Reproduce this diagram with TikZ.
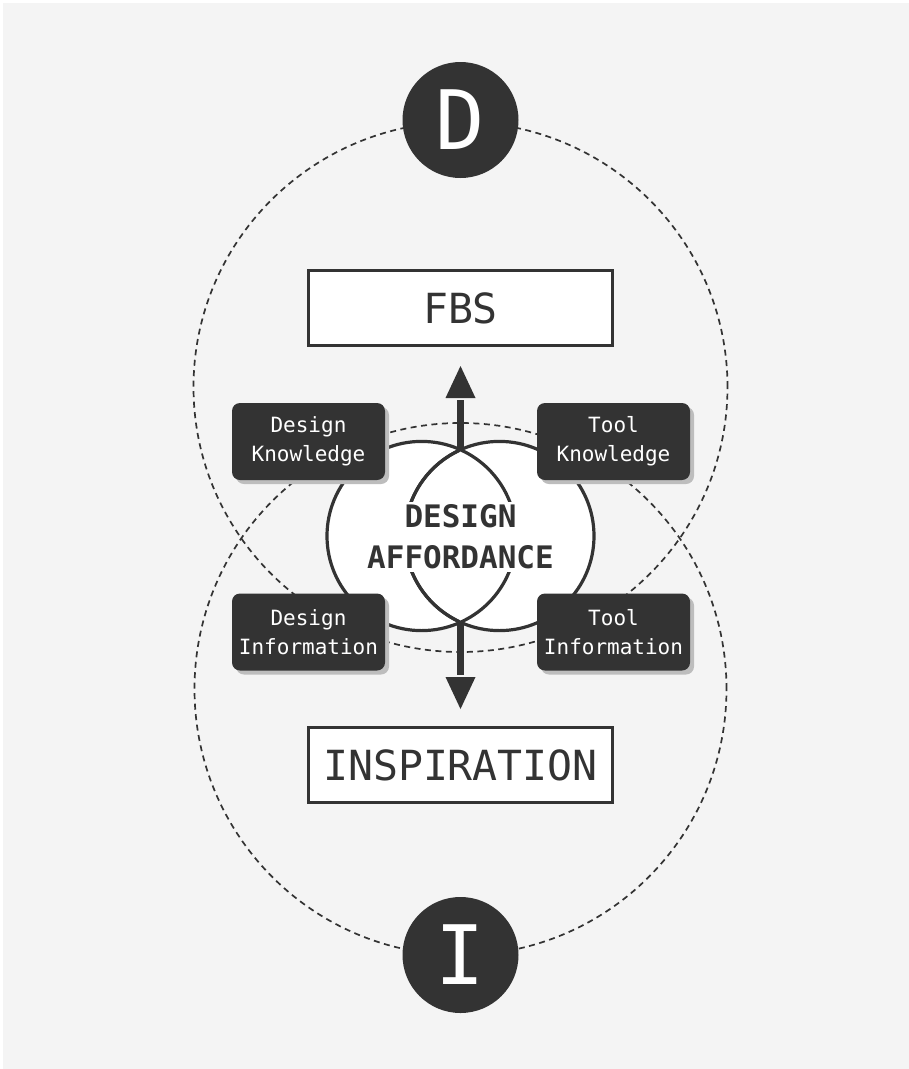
\documentclass[tikz,border=0pt]{standalone}
\usepackage{fontspec}
\setmonofont{DejaVu Sans Mono}
\usetikzlibrary{shadows}
\definecolor{dk}{HTML}{333333}
\definecolor{bg}{HTML}{F4F4F4}
\definecolor{shd}{HTML}{BDBDBD}
\tikzset{
  dashell/.style={draw=dk, line width=1.7pt, dash pattern=on 6pt off 4.5pt},
  lenscirc/.style={draw=dk, line width=3.2pt, fill=white},
  kbox/.style={draw=none, fill=dk, rounded corners=8pt, minimum width=153pt, minimum height=77pt,
    text=white, align=center, font=\ttfamily\fontsize{21}{29}\selectfont,
    drop shadow={shadow xshift=4pt, shadow yshift=-4pt, fill=shd, opacity=1}},
  wbox/.style={draw=dk, line width=3pt, fill=white, minimum width=304pt, minimum height=75pt,
    text=dk, font=\ttfamily\fontsize{41.5}{48}\selectfont},
  letter/.style={circle, fill=dk, minimum size=116pt, inner sep=0pt, text=white,
    font=\ttfamily\fontsize{82}{90}\selectfont},
  bigarrow/.style={draw=dk, line width=7pt},
  ahead/.style={fill=dk, draw=none}
}
\begin{document}
\begin{tikzpicture}[x=1pt,y=-1pt]
\useasboundingbox (0,0) rectangle (909,1069);
\fill[bg] (3,3) rectangle (909,1069);
% dashed ellipses
\draw[dashell] (460.5,387) ellipse [x radius=267pt, y radius=265pt];
\draw[dashell] (460.5,689) ellipse [x radius=266pt, y radius=266pt];
% letter circles
\node[letter] (D) at (460.5,120) {D};
\node[letter] (I) at (460.5,955) {I};
% lens circles
\draw[lenscirc] (421.6,536) circle [radius=94.6pt];
\draw[lenscirc] (499.4,536) circle [radius=94.6pt];
\draw[draw=dk, line width=3.2pt] (421.6,536) ++(-65:94.6pt) arc[start angle=-65, end angle=65, radius=94.6pt];
\draw[draw=dk, line width=3.2pt] (499.4,536) ++(115:94.6pt) arc[start angle=115, end angle=245, radius=94.6pt];
\coordinate (ltop) at (460.5,450);
\coordinate (lbot) at (460.5,622);
\node[fill=white, inner sep=3pt, align=center, text=dk,
  font=\ttfamily\bfseries\fontsize{31}{41}\selectfont] (DA) at (460.5,537) {DESIGN\\AFFORDANCE};
% top boxes
\node[wbox] (FBS) at (460.5,308) {FBS};
\node[wbox] (INS) at (460.5,765) {INSPIRATION};
% arrows
\coordinate (uptip) at (460.5,366);
\coordinate (upbase) at (460.5,398);
\coordinate (dntip) at (460.5,709);
\coordinate (dnbase) at (460.5,677);
\draw[bigarrow] (ltop) -- ([yshift=-2pt]upbase);
\fill[ahead] (uptip) -- ([xshift=-15pt]upbase) -- ([xshift=15pt]upbase) -- cycle;
\draw[bigarrow] (lbot) -- ([yshift=2pt]dnbase);
\fill[ahead] (dntip) -- ([xshift=-15pt]dnbase) -- ([xshift=15pt]dnbase) -- cycle;
% knowledge boxes
\node[kbox] (DK) at (308.5,441.5) {Design\\Knowledge};
\node[kbox] (TK) at (613.5,441.5) {Tool\\Knowledge};
\node[kbox] (DI) at (308.5,632) {Design\\Information};
\node[kbox] (TI) at (613.5,632) {Tool\\Information};
\end{tikzpicture}
\end{document}
